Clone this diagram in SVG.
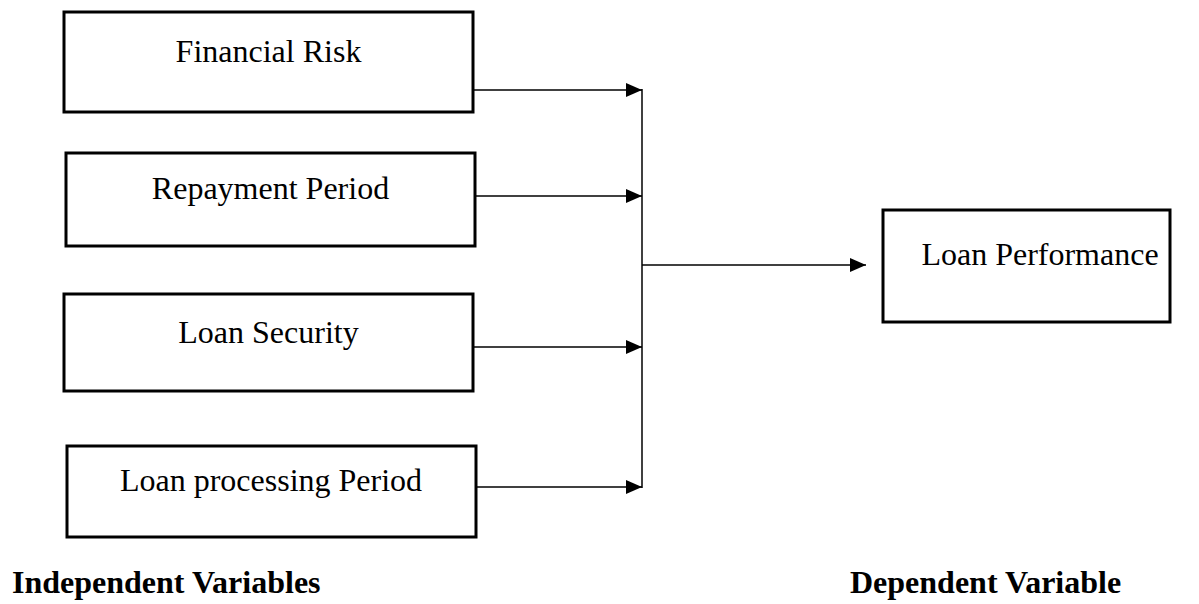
<svg xmlns="http://www.w3.org/2000/svg" width="1199" height="604" viewBox="0 0 1199 604">
<style>
.box{fill:#fff;stroke:#000;stroke-width:3}
.t{font-family:"Liberation Serif","Times New Roman",serif;font-size:32px;fill:#000;text-anchor:middle}
.b{font-family:"Liberation Serif","Times New Roman",serif;font-size:32px;font-weight:bold;fill:#000}
.c{stroke:#000;stroke-width:1.5;fill:none}
</style>
<defs>
<marker id="ah" markerUnits="userSpaceOnUse" markerWidth="16" markerHeight="14" refX="16" refY="7" orient="auto">
<path d="M0,0 L16,7 L0,14 Z" fill="#000"/>
</marker>
</defs>
<rect width="1199" height="604" fill="#fff"/>
<g id="connectors">
<line class="c" x1="473" y1="90" x2="642" y2="90" marker-end="url(#ah)"/>
<line class="c" x1="475" y1="196" x2="642" y2="196" marker-end="url(#ah)"/>
<line class="c" x1="473" y1="347" x2="642" y2="347" marker-end="url(#ah)"/>
<line class="c" x1="476" y1="487" x2="642" y2="487" marker-end="url(#ah)"/>
<line class="c" x1="642" y1="89" x2="642" y2="488"/>
<line class="c" x1="642" y1="265" x2="866" y2="265" marker-end="url(#ah)"/>
</g>
<g id="n1"><rect class="box" x="64" y="12" width="409" height="100"/><text class="t" x="268.5" y="62">Financial Risk</text></g>
<g id="n2"><rect class="box" x="66" y="153" width="409" height="93"/><text class="t" x="270.5" y="199">Repayment Period</text></g>
<g id="n3"><rect class="box" x="64" y="294" width="409" height="97"/><text class="t" x="268.5" y="343">Loan Security</text></g>
<g id="n4"><rect class="box" x="67" y="446" width="409" height="91"/><text class="t" x="271" y="491">Loan processing Period</text></g>
<g id="n5"><rect class="box" x="883" y="210" width="287" height="112"/><text class="t" x="1040" y="265">Loan Performance</text></g>
<g id="labels">
<text class="b" x="12" y="593">Independent Variables</text>
<text class="b" x="850" y="593">Dependent Variable</text>
</g>
</svg>
